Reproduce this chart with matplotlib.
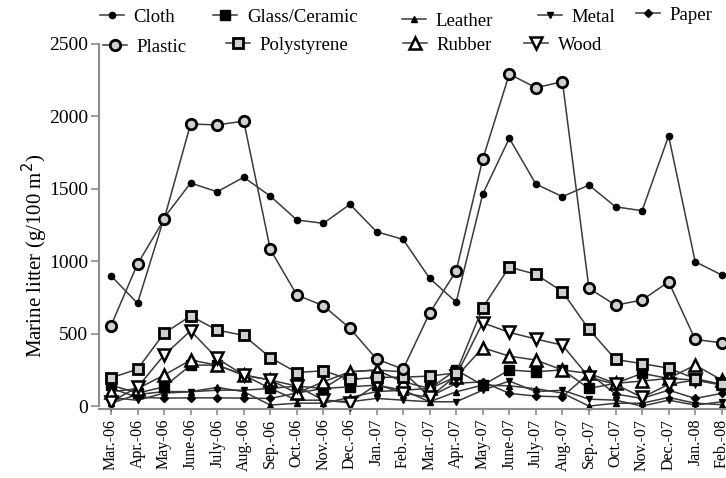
import matplotlib
matplotlib.use("Agg")
import matplotlib.pyplot as plt
from matplotlib.lines import Line2D

months = ["Mar.-06", "Apr.-06", "May-06", "June-06", "July-06", "Aug.-06",
          "Sep.-06", "Oct.-06", "Nov.-06", "Dec.-06", "Jan.-07", "Feb.-07",
          "Mar.-07", "Apr.-07", "May-07", "June-07", "July-07", "Aug.-07",
          "Sep.-07", "Oct.-07", "Nov.-07", "Dec.-07", "Jan.-08", "Feb.-08"]

cloth = [900, 710, 1300, 1540, 1480, 1580, 1450, 1285, 1262, 1393, 1204, 1151,
         882, 718, 1464, 1849, 1533, 1446, 1526, 1376, 1349, 1865, 997, 905]
plastic = [555, 981, 1289, 1948, 1941, 1968, 1082, 767, 693, 537, 325, 255,
           642, 934, 1704, 2293, 2198, 2240, 813, 697, 732, 858, 460, 437]
polystyrene = [195, 255, 503, 622, 525, 488, 335, 232, 244, 184, 198, 200,
               207, 230, 680, 960, 910, 790, 530, 322, 293, 262, 190, 150]
wood = [30, 130, 352, 520, 329, 214, 180, 138, 41, 23, 150, 90,
        60, 210, 575, 509, 463, 421, 200, 150, 60, 150, 180, 150]
rubber = [100, 120, 214, 318, 283, 214, 180, 90, 168, 237, 249, 168,
          122, 202, 403, 345, 318, 249, 226, 157, 173, 191, 283, 180]
glass = [145, 90, 133, 283, 283, 214, 122, 138, 122, 133, 145, 110,
         122, 249, 145, 249, 237, 250, 122, 157, 226, 191, 180, 145]
paper = [124, 60, 55, 57, 57, 55, 53, 90, 122, 237, 249, 237,
         64, 157, 168, 88, 69, 64, 226, 83, 53, 110, 53, 88]
metal = [60, 40, 90, 99, 110, 110, 122, 41, 41, 30, 53, 41,
         30, 30, 110, 173, 100, 110, 48, 41, 0, 41, 7, 30]
leather = [20, 80, 100, 100, 129, 100, 7, 20, 20, 60, 100, 110,
           30, 99, 145, 140, 120, 90, 0, 20, 20, 60, 20, 10]

serif = "Liberation Serif"
line_col = "#3a3a3a"
spine_col = "#8c8c8c"

styles = {
    "Cloth": dict(marker="o", ms=4.5, mfc="black", mec="black"),
    "Glass/Ceramic": dict(marker="s", ms=7, mfc="black", mec="black"),
    "Leather": dict(marker="^", ms=4.5, mfc="black", mec="black"),
    "Metal": dict(marker="v", ms=5, mfc="black", mec="black"),
    "Paper": dict(marker="D", ms=4.5, mfc="black", mec="black"),
    "Plastic": dict(marker="o", ms=7.5, mfc="#d0d0d0", mec="black", mew=2),
    "Polystyrene": dict(marker="s", ms=7.5, mfc="#d0d0d0", mec="black", mew=2),
    "Rubber": dict(marker="^", ms=8, mfc="white", mec="black", mew=1.8),
    "Wood": dict(marker="v", ms=8, mfc="white", mec="black", mew=1.8),
}

series = [("Paper", paper), ("Leather", leather), ("Metal", metal),
          ("Glass/Ceramic", glass), ("Rubber", rubber), ("Wood", wood),
          ("Polystyrene", polystyrene), ("Cloth", cloth), ("Plastic", plastic)]

fig = plt.figure(figsize=(7.26, 4.78), dpi=100)
ax = fig.add_axes([99 / 726, 1 - 409 / 478, 627 / 726, 365 / 478])

x = list(range(len(months)))
for name, vals in series:
    ax.plot(x, vals, color=line_col, lw=1.1, label=name, clip_on=False, **styles[name])

ax.set_xlim(-0.45, 23.16)
ax.set_ylim(-20, 2500)
ax.set_yticks([0, 500, 1000, 1500, 2000, 2500])
ax.set_xticks(x)
ax.set_xticklabels(months, rotation=90, fontsize=11.5, family=serif)
for lab in ax.get_yticklabels():
    lab.set_family(serif)
    lab.set_fontsize(14)
ax.tick_params(axis="both", color=spine_col, width=1.2)
ax.tick_params(axis="y", length=6, pad=2)
ax.tick_params(axis="x", length=4, pad=3)
for side in ["top", "right"]:
    ax.spines[side].set_visible(False)
for side in ["left", "bottom"]:
    ax.spines[side].set_color(spine_col)
    ax.spines[side].set_linewidth(1.5)
ax.spines["left"].set_bounds(0, 2500)
ax.set_ylabel("Marine litter (g/100 m$^2$)", fontsize=15, family=serif,
              va="center")
ax.yaxis.set_label_coords(-0.103, 0.42)

# legend entries placed individually (two rows above the plot)
legend_pos = {
    "Cloth": (100, 17), "Glass/Ceramic": (213, 17), "Leather": (402, 21),
    "Metal": (538, 17), "Paper": (636, 15),
    "Plastic": (103, 47), "Polystyrene": (226, 45), "Rubber": (403, 45),
    "Wood": (524, 45),
}
for name, (px, py) in legend_pos.items():
    handle = Line2D([], [], color=line_col, lw=1.1, **styles[name])
    fig.legend([handle], [name], loc="center left",
               bbox_to_anchor=(px / 726, 1 - py / 478), frameon=False,
               handlelength=1.3, handletextpad=0.5, borderpad=0, borderaxespad=0,
               prop={"family": serif, "size": 13.5})

fig.savefig("out.png", dpi=100)
